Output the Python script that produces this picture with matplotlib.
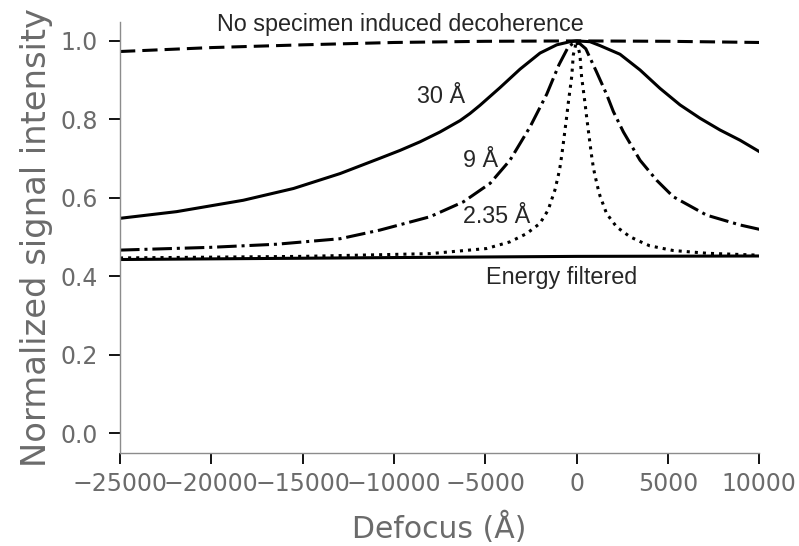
import matplotlib
matplotlib.use("Agg")
import matplotlib.pyplot as plt

# ---------- data ----------

# no specimen induced decoherence (dashed)
nodec_x = [-25000, -20000, -15000, -10000, -5000, 0, 5000, 10000]
nodec_y = [0.973, 0.983, 0.990, 0.996, 0.999, 1.000, 0.999, 0.996]

# 30 A (solid)
a30_x = [-25000, -21900, -18250, -15500, -12950, -10770, -9670, -8570, -7480,
         -6380, -5840, -5290, -4195, -3100, -2005, -1090, -360, 0, 730, 1280, 2375,
         3470, 4565, 5660, 6755, 7850, 8945, 10000]
a30_y = [0.548, 0.565, 0.594, 0.624, 0.662, 0.701, 0.721, 0.743, 0.768,
         0.797, 0.815, 0.836, 0.881, 0.928, 0.969, 0.990, 0.998, 1.000, 0.998, 0.988, 0.966,
         0.926, 0.879, 0.837, 0.803, 0.773, 0.747, 0.718]

# 9 A (dash-dot)
a9_x = [-25000, -20070, -16420, -12950, -10770, -8030, -6200, -4740, -3650,
        -2550, -1640, -960, -455, 0, 500, 1080, 1640, 2010, 2560, 3470,
        4380, 5290, 7120, 8950, 10000]
a9_y = [0.467, 0.474, 0.482, 0.496, 0.518, 0.552, 0.590, 0.637, 0.696,
        0.781, 0.864, 0.940, 0.985, 1.000, 0.980, 0.922, 0.864, 0.820, 0.768, 0.696,
        0.645, 0.603, 0.556, 0.531, 0.520]

# 2.35 A (dotted)
a235_x = [-25000, -15000, -8030, -4930, -3650, -2740, -2010, -1560, -1190,
          -1000, -910, -820, -730, -550, -460, -270, -180, 0, 180, 270, 460,
          550, 730, 820, 910, 1000, 1190, 1280, 1640, 2190, 2920, 3650, 4000,
          5280, 7120, 10000]
a235_y = [0.447, 0.451, 0.458, 0.471, 0.488, 0.509, 0.535, 0.569, 0.620,
          0.658, 0.679, 0.707, 0.739, 0.805, 0.841, 0.909, 0.965, 1.000, 0.965, 0.909, 0.841,
          0.805, 0.739, 0.707, 0.679, 0.658, 0.620, 0.605, 0.560, 0.526, 0.501, 0.485, 0.478,
          0.466, 0.459, 0.454]

# energy filtered (solid)
ef_x = [-25000, -10000, 0, 10000]
ef_y = [0.443, 0.448, 0.451, 0.452]

xticks = [-25000, -20000, -15000, -10000, -5000, 0, 5000, 10000]
yticks = [0.0, 0.2, 0.4, 0.6, 0.8, 1.0]

# ---------- plot ----------

fig = plt.figure(figsize=(7.99, 5.46), dpi=100)
ax = fig.add_axes([0.1502, 0.1703, 0.8001, 0.79])

lw = 2.2
ax.plot(nodec_x, nodec_y, color="black", lw=lw, dashes=(5, 2.3))
ax.plot(a30_x, a30_y, color="black", lw=lw)
ax.plot(a9_x, a9_y, color="black", lw=lw, linestyle="-.")
ax.plot(a235_x, a235_y, color="black", lw=lw, linestyle=":")
ax.plot(ef_x, ef_y, color="black", lw=lw)

txt = dict(family=["Liberation Sans", "DejaVu Sans"], fontsize=16.8,
           color="#262626", ha="center", va="baseline")
ax.text(-9670, 1.0255, "No specimen induced decoherence", clip_on=False, **txt)
ax.text(-7425, 0.841, "30 Å", **txt)
ax.text(-5235, 0.679, "9 Å", **txt)
ax.text(-4359, 0.535, "2.35 Å", **txt)
ax.text(-800, 0.380, "Energy filtered", **txt)

ax.set_xlim(-25000, 10000)
ax.set_ylim(-0.05, 1.049)
ax.set_xticks(xticks)
ax.set_yticks(yticks)

for side in ("top", "right"):
    ax.spines[side].set_visible(False)
for side in ("left", "bottom"):
    ax.spines[side].set_color("#8c8c8c")
    ax.spines[side].set_linewidth(1.0)

ax.tick_params(direction="out", length=8, width=1.3, color="black",
               labelcolor="#6b6b6b", labelsize=17)
ax.tick_params(axis="y", pad=8)
ax.tick_params(axis="x", pad=6)

ax.set_xlabel("Defocus (Å)", fontsize=21.5, color="#6b6b6b", labelpad=11)
ax.set_ylabel("Normalized signal intensity", fontsize=24.3, color="#6b6b6b", labelpad=5)

fig.savefig("out.png", dpi=100)
plt.close(fig)
